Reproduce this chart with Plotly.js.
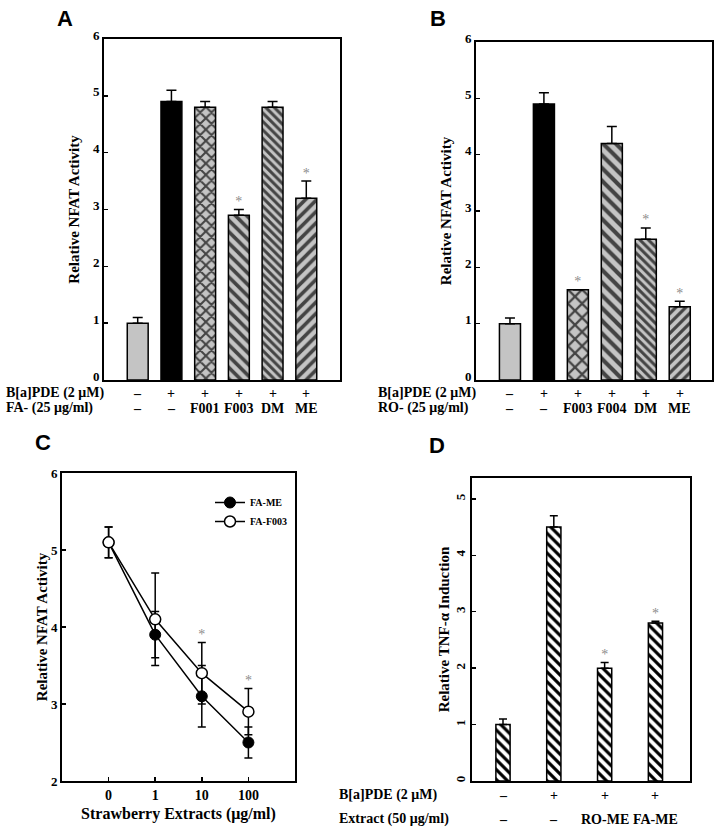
<!DOCTYPE html>
<html><head><meta charset="utf-8">
<script src="https://cdn.plot.ly/plotly-3.0.1.min.js"></script>
<style>body{margin:0;background:#fff}#chart{width:724px;height:833px}</style>
</head><body><div id="chart"></div>
<script>
// ---------- DATA ----------
// Panel A
const aRow1 = ['–','+','+','+','+','+'];
const aRow2 = ['–','–','F001','F003','DM','ME'];
const aVal  = [1.0, 4.9, 4.8, 2.9, 4.8, 3.2];
const aErr  = [0.1, 0.2, 0.1, 0.1, 0.1, 0.3];
const aSig  = [false,false,false,true,false,true];
// Panel B
const bRow1 = ['–','+','+','+','+','+'];
const bRow2 = ['–','–','F003','F004','DM','ME'];
const bVal  = [1.0, 4.9, 1.6, 4.2, 2.5, 1.3];
const bErr  = [0.1, 0.2, 0.0, 0.3, 0.2, 0.1];
const bSig  = [false,false,true,false,true,true];
// Panel C
const cDose   = ['0','1','10','100'];
const cMeVal  = [5.1, 3.9, 3.1, 2.5];
const cMeErr  = [0.2, 0.3, 0.4, 0.2];
const cF3Val  = [5.1, 4.1, 3.4, 2.9];
const cF3Err  = [0.2, 0.6, 0.4, 0.3];
const cSig    = [false,false,true,true];
// Panel D
const dRow1 = ['–','+','+','+'];
const dRow2 = ['–','–','RO-ME','FA-ME'];
const dVal  = [1.0, 4.5, 2.0, 2.8];
const dErr  = [0.1, 0.2, 0.1, 0.03];
const dSig  = [false,false,true,true];

// ---------- STYLE ----------
const SERIF = 'Liberation Serif, Times New Roman, serif';
const SANS = 'Liberation Sans, Arial, sans-serif';
const GRAY = '#c4c4c4';
const W = 724, H = 833;
const px = v => v / W, py = v => 1 - v / H;
const idx = a => a.map((_, i) => i);

const aStyle = {
  color:   [GRAY,'#000',GRAY,GRAY,GRAY,GRAY],
  shape:   ['','','x','\\','\\','/'],
  size:    [8,8,8,8,6,8],
  sol:     [0.3,0.3,0.45,0.45,0.5,0.45]
};
const bStyle = {
  color:   [GRAY,'#000',GRAY,GRAY,GRAY,GRAY],
  shape:   ['','','x','\\','\\','/'],
  size:    [8,8,10,9,6,7],
  sol:     [0.3,0.3,0.4,0.45,0.5,0.45]
};

function barTrace(vals, errs, st, xa, ya, width) {
  return {
    type: 'bar', x: idx(vals), y: vals, xaxis: xa, yaxis: ya, width: width,
    showlegend: false, hoverinfo: 'skip',
    marker: {
      color: st.color,
      line: {color: '#000', width: 1.5},
      pattern: {shape: st.shape, fgcolor: '#000', fgopacity: 1, size: st.size, solidity: st.sol, fillmode: 'overlay'}
    },
    error_y: {type: 'data', symmetric: false, array: errs, arrayminus: errs.map(() => 0),
              color: '#000', thickness: 1.5, width: 5}
  };
}
function sigTrace(vals, errs, sig, xa, ya) {
  const xs = [], ys = [];
  sig.forEach((s, i) => { if (s) { xs.push(i); ys.push(vals[i] + errs[i]); } });
  return {type: 'scatter', mode: 'text', x: xs, y: ys, text: xs.map(() => '*'),
          textposition: 'top center', textfont: {family: SERIF, size: 14, color: '#8c8c8c'},
          xaxis: xa, yaxis: ya, showlegend: false, hoverinfo: 'skip', cliponaxis: false};
}

const traces = [
  barTrace(aVal, aErr, aStyle, 'x', 'y', 0.62),
  sigTrace(aVal, aErr, aSig, 'x', 'y'),
  barTrace(bVal, bErr, bStyle, 'x2', 'y2', 0.62),
  sigTrace(bVal, bErr, bSig, 'x2', 'y2'),
  {
    type: 'scatter', mode: 'lines+markers', name: 'FA-ME', x: idx(cMeVal), y: cMeVal,
    xaxis: 'x3', yaxis: 'y3', line: {color: '#000', width: 1.5},
    marker: {symbol: 'circle', size: 11, color: '#000', line: {color: '#000', width: 1}},
    error_y: {type: 'data', array: cMeErr, color: '#000', thickness: 1.5, width: 4}
  },
  {
    type: 'scatter', mode: 'lines+markers', name: 'FA-F003', x: idx(cF3Val), y: cF3Val,
    xaxis: 'x3', yaxis: 'y3', line: {color: '#000', width: 1.5},
    marker: {symbol: 'circle', size: 11, color: '#fff', line: {color: '#000', width: 1.5}},
    error_y: {type: 'data', array: cF3Err, color: '#000', thickness: 1.5, width: 4}
  },
  sigTrace(cF3Val, cF3Err, cSig, 'x3', 'y3'),
  {
    type: 'bar', x: idx(dVal), y: dVal, xaxis: 'x4', yaxis: 'y4', width: 0.28,
    showlegend: false, hoverinfo: 'skip',
    marker: {color: '#fff', line: {color: '#000', width: 1.5},
             pattern: {shape: '\\', bgcolor: '#fff', fgcolor: '#000', size: 7, solidity: 0.45}},
    error_y: {type: 'data', symmetric: false, array: dErr, arrayminus: dErr.map(() => 0),
              color: '#000', thickness: 1.5, width: 4}
  },
  sigTrace(dVal, dErr, dSig, 'x4', 'y4')
];

const tickFont = {family: SERIF, size: 13, color: '#000', weight: 'bold'};
const titleFont = {family: SERIF, size: 15, color: '#000', weight: 'bold'};
function xAxis(domain, range, anchor, extra) {
  return Object.assign({domain, range, anchor, showline: true, mirror: true, linecolor: '#000', linewidth: 2,
    showgrid: false, zeroline: false, ticks: '', showticklabels: false, fixedrange: true}, extra || {});
}
function yAxis(domain, range, anchor, title, standoff, extra) {
  return Object.assign({domain, range, anchor, showline: true, mirror: true, linecolor: '#000', linewidth: 2,
    showgrid: false, zeroline: false, ticks: 'inside', ticklen: 4, tickwidth: 1.5, tickcolor: '#000',
    dtick: 1, tickfont: tickFont, title: {text: title, font: titleFont, standoff: standoff}, fixedrange: true}, extra || {});
}

const annotations = [];
function ann(text, x, y, xref, opts) {
  annotations.push(Object.assign({text, x, y, xref, yref: 'paper', showarrow: false,
    font: {family: SERIF, size: 14, color: '#000', weight: 'bold'}, xanchor: 'center', yanchor: 'middle'}, opts || {}));
}
function rows(r1, r2, xref, y1, y2) {
  r1.forEach((t, i) => ann(t, i, py(y1), xref));
  r2.forEach((t, i) => ann(t, i, py(y2), xref));
}
// panel letters
[['A',65,18],['B',438,18],['C',43,443],['D',437,445]].forEach(([t,x,y]) =>
  ann(t, px(x), py(y), 'paper', {font: {family: SANS, size: 22, color: '#000', weight: 'bold'}}));
// row labels
ann('B[a]PDE (2 μM)', px(4), py(393), 'paper', {xanchor: 'left'});
ann('FA- (25 μg/ml)', px(4), py(408), 'paper', {xanchor: 'left'});
rows(aRow1, aRow2, 'x', 393, 408);
ann('B[a]PDE (2 μM)', px(376), py(393), 'paper', {xanchor: 'left'});
ann('RO- (25 μg/ml)', px(376), py(408), 'paper', {xanchor: 'left'});
rows(bRow1, bRow2, 'x2', 393, 408);
ann('B[a]PDE (2 μM)', px(337), py(795), 'paper', {xanchor: 'left'});
ann('Extract (50 μg/ml)', px(337), py(819), 'paper', {xanchor: 'left'});
rows(dRow1, dRow2, 'x4', 795, 819);

const layout = {
  width: W, height: H, margin: {l: 0, r: 0, t: 0, b: 0},
  paper_bgcolor: '#fff', plot_bgcolor: '#fff', bargap: 0, showlegend: true,
  xaxis:  xAxis([px(104), px(340)], [-1, 6], 'y'),
  yaxis:  yAxis([1 - 380/H, 1 - 39/H], [0, 6], 'x', 'Relative NFAT Activity', 10, {ticklabelshift: -4}),
  xaxis2: xAxis([px(476), px(712)], [-1, 5.95], 'y2'),
  yaxis2: yAxis([1 - 380/H, 1 - 42/H], [0, 6], 'x2', 'Relative NFAT Activity', 10, {ticklabelshift: -4}),
  xaxis3: xAxis([px(62), px(295)], [-1, 4], 'y3', {
    showticklabels: true, tickvals: idx(cDose), ticktext: cDose, ticks: 'inside', ticklen: 4,
    tickwidth: 1.5, tickcolor: '#000', tickfont: {family: SERIF, size: 14, color: '#000', weight: 'bold'},
    title: {text: 'Strawberry Extracts (μg/ml)', font: {family: SERIF, size: 16, color: '#000', weight: 'bold'}, standoff: 6}}),
  yaxis3: yAxis([1 - 781/H, 1 - 473/H], [2, 6], 'x3', 'Relative NFAT Activity', 0),
  xaxis4: xAxis([px(472), px(690)], [-0.61, 3.68], 'y4'),
  yaxis4: yAxis([1 - 781/H, 1 - 478/H], [0, 5.37], 'x4', 'Relative TNF-α Induction', 0, {tickangle: -90}),
  legend: {x: px(210), y: py(488), xanchor: 'left', yanchor: 'top', bgcolor: 'rgba(0,0,0,0)',
           font: {family: SERIF, size: 10, color: '#000', weight: 'bold'}, itemwidth: 30, tracegroupgap: 0},
  annotations
};

Plotly.newPlot('chart', traces, layout, {staticPlot: true, displayModeBar: false});
</script></body></html>
